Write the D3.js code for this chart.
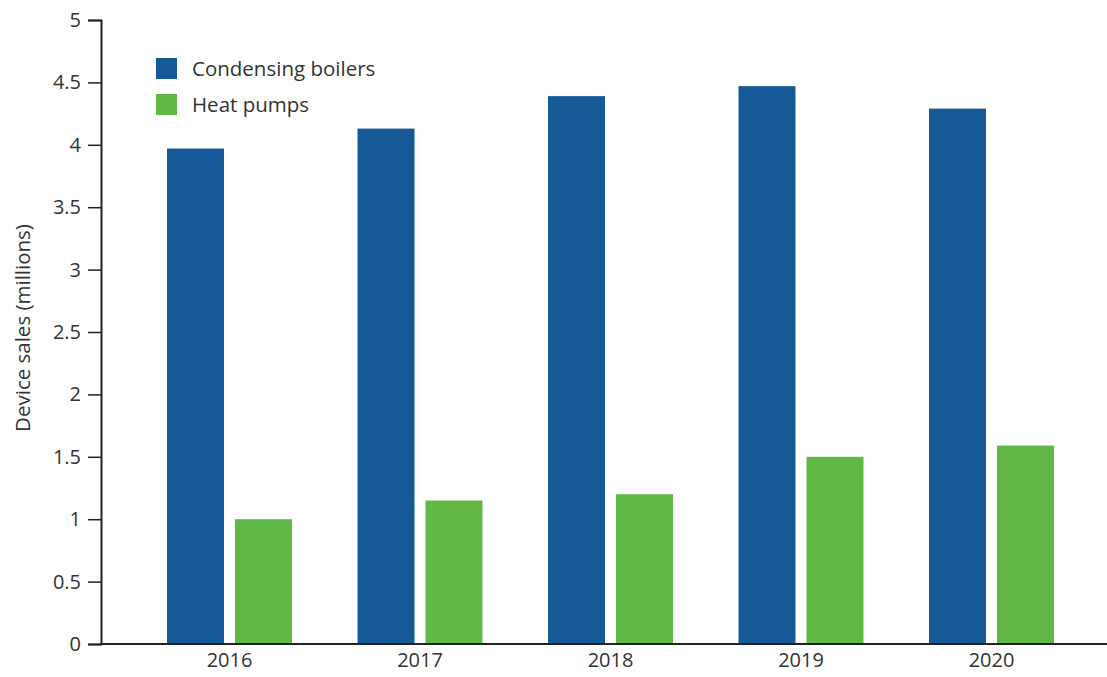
<!DOCTYPE html>
<html><head><meta charset="utf-8">
<script src="https://cdn.jsdelivr.net/npm/d3@7"></script>
<style>body{margin:0;background:#fff;} text{font-family:"Open Sans", sans-serif;fill:#333;}</style>
</head><body>
<svg id="chart" width="1107" height="677"></svg>
<script>
const years = ["2016","2017","2018","2019","2020"];
const seriesNames = ["Condensing boilers","Heat pumps"];
const condensingBoilers = [3.97, 4.13, 4.39, 4.47, 4.29];
const heatPumps = [1.0, 1.15, 1.2, 1.5, 1.59];
const yTicks = [0, 0.5, 1, 1.5, 2, 2.5, 3, 3.5, 4, 4.5, 5];
const colors = ["#155a96", "#62b847"];
const FONT = "'Open Sans', sans-serif";

const svg = d3.select("#chart");
const x0 = d3.scaleBand().domain(years).range([134.25, 1086.75]).paddingInner(0.344).paddingOuter(0.172);
const x1 = d3.scaleBand().domain(seriesNames).range([0, x0.bandwidth()]).paddingInner(0.162);
const y = d3.scaleLinear().domain([0, 5]).range([644, 20]);
const color = d3.scaleOrdinal().domain(seriesNames).range(colors);

const data = years.map((yr, i) => ({year: yr, values: [
  {key: seriesNames[0], value: condensingBoilers[i]},
  {key: seriesNames[1], value: heatPumps[i]}]}));

const g = svg.selectAll("g.grp").data(data).join("g").attr("class","grp")
  .attr("transform", d => `translate(${x0(d.year)},0)`);
g.selectAll("rect").data(d => d.values).join("rect")
  .attr("x", d => x1(d.key)).attr("width", x1.bandwidth())
  .attr("y", d => y(d.value)).attr("height", d => y(0) - y(d.value))
  .attr("fill", d => color(d.key));

// y axis
const yAxis = svg.append("g").attr("transform","translate(101,0)")
  .call(d3.axisLeft(y).tickValues(yTicks).tickSize(13).tickPadding(7).tickFormat(d3.format("~g")));
yAxis.select(".domain").attr("stroke","#222").attr("stroke-width",2);
yAxis.selectAll(".tick line").attr("stroke","#222").attr("stroke-width",1.5);
yAxis.selectAll(".tick text").attr("font-size",20).attr("fill","#333").attr("font-family",FONT);

// x axis baseline
const xAxis = svg.append("g").attr("transform","translate(0,644)")
  .call(d3.axisBottom(x0).tickSize(0).tickPadding(9));
xAxis.select(".domain").attr("d","M100,0H1107").attr("stroke","#222").attr("stroke-width",2);
xAxis.selectAll(".tick text").attr("font-size",20).attr("fill","#333").attr("font-family",FONT);

// y title
svg.append("text").attr("transform","translate(30,328) rotate(-90)")
  .attr("text-anchor","middle").attr("font-size",20.5).text("Device sales (millions)");

// legend
const leg = svg.append("g").selectAll("g").data(seriesNames).join("g")
  .attr("transform",(d,i)=>`translate(156,${58 + i*36})`);
leg.append("rect").attr("width",21).attr("height",21).attr("fill", d => color(d));
leg.append("text").attr("x",36).attr("y",18).attr("font-size",20.5).text(d => d);
</script>
</body></html>
